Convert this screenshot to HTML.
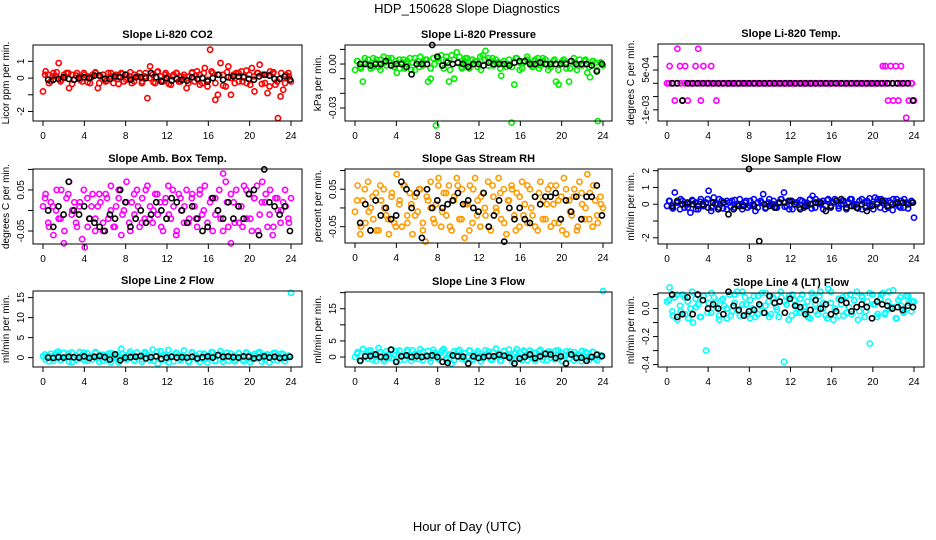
<!DOCTYPE html>
<html><head><meta charset="utf-8"><title>HDP_150628 Slope Diagnostics</title>
<style>
html,body{margin:0;padding:0;background:#fff;}
svg{display:block;font-family:"Liberation Sans",sans-serif;}
</style></head>
<body>
<svg id="chart" width="936" height="540" viewBox="0 0 936 540" xmlns="http://www.w3.org/2000/svg">
<text x="467" y="13" font-size="13" text-anchor="middle">HDP_150628  Slope Diagnostics</text>
<text x="467" y="531" font-size="13" text-anchor="middle">Hour of Day (UTC)</text>
</svg>
<script>
// ---- data ----
const hourTicks = [0,4,8,12,16,20,24];

const co2Color = [-0.8,0.4,0.2,-0.2,0.3,0.1,0.9,-0.1,0.2,0.3,-0.6,0.2,-0.1,0.3,0.1,-0.2,0.2,0.1,-0.3,0.2,0.3,-0.6,0.1,0.2,-0.2,0.3,0.1,-0.3,0.2,0.1,0.3,-0.2,0.2,0.1,-0.3,0.2,0.1,0.3,-0.2,0.1,-1.2,0.7,0.2,-0.3,0.4,0.1,-0.2,0.3,0.1,-0.4,0.2,0.3,-0.2,0.1,0.2,-0.6,0.1,0.3,-0.2,0.4,0.2,-0.3,0.6,-0.5,1.7,0.3,-1.3,-1.0,0.9,0.2,-0.5,0.7,-1.0,0.2,0.3,-0.2,0.4,0.1,-0.3,0.2,0.6,-0.8,0.3,0.8,0.2,-0.3,-0.9,0.4,0.3,-0.4,-2.4,-1.1,-0.7,0.2,0.3,-0.2];
const co2Color2 = [0.2,-0.3,0.1,0.35,-0.2,0.0,0.3,-0.35,0.15,-0.1,0.3,-0.25,0.05,0.35,-0.3,0.2,-0.15,0.3,0.0,-0.35,0.25,-0.1,0.35,-0.2,0.1,-0.3,0.3,0.0,-0.25,0.35,-0.15,0.2,-0.35,0.1,0.3,-0.2,0.05,-0.3,0.35,0.15,-0.4,0.3,-0.1,0.4,-0.3,0.2,-0.45,0.35,0.0,-0.3,0.3,-0.2,0.45,-0.4,0.1,0.3,-0.35,0.2,-0.5,0.35,-0.2,0.3,-0.3,0.1];
const co2Black = [-0.1,-0.1,-0.05,0.05,-0.05,-0.1,0.0,0.05,0.0,0.15,0.15,-0.05,-0.05,0.1,0.05,0.2,-0.1,0.05,0.05,0.0,0.3,0.05,-0.2,0.0,-0.15,-0.05,-0.1,-0.15,0.05,-0.05,0.0,-0.2,0.0,0.2,-0.1,0.05,0.1,0.1,0.05,-0.05,-0.1,0.1,0.2,0.15,-0.05,-0.05,0.1,-0.1];

const presColor = [-0.004,0.002,-0.002,-0.012,0.001,0.003,-0.003,0.004,0.001,-0.002,0.003,0.005,-0.001,0.002,0.004,-0.002,-0.006,0.003,0.001,-0.003,0.002,0.004,0.001,-0.004,0.002,0.005,-0.001,0.003,-0.012,-0.010,0.004,-0.042,0.002,0.006,-0.003,0.005,-0.012,0.006,-0.010,0.008,0.005,-0.003,0.002,0.004,-0.001,0.003,0.002,-0.002,0.005,0.006,0.009,0.004,0.002,-0.001,0.003,0.001,-0.008,0.002,-0.002,0.003,-0.040,-0.014,0.004,0.001,-0.003,0.002,0.005,0.001,-0.002,0.003,0.004,-0.001,0.002,0.003,-0.004,-0.002,0.002,-0.012,-0.014,0.001,0.003,-0.003,-0.012,0.002,0.001,-0.004,0.003,-0.001,0.002,-0.006,-0.009,0.002,0.001,-0.039,0.001,-0.001];
const presColor2 = [0.002,-0.003,0.004,0.0,-0.002,0.003,-0.004,0.001,0.004,-0.001,0.002,-0.003,0.003,0.0,-0.004,0.004,-0.002,0.001,0.003,-0.003,0.0,0.004,-0.001,0.002,-0.004,0.003,0.001,-0.002,0.004,-0.003,0.0,0.002,-0.004,0.003,-0.001,0.004,0.001,-0.003,0.002,0.0,-0.002,0.004,-0.004,0.001,0.003,-0.001,0.002,-0.003,0.004,0.0,-0.002,0.003,-0.004,0.002,0.001,-0.003,0.004,-0.001,0.0,0.003,-0.002,0.002,-0.004,0.001];
const presBlack = [0.0,0.0,-0.001,0.0,0.0,0.002,-0.001,0.0,0.0,-0.002,-0.007,0.0,0.0,0.0,0.013,0.005,-0.001,0.001,0.0,0.001,0.0,-0.002,0.0,0.0,-0.001,0.001,0.0,0.0,0.0,-0.001,0.001,0.002,0.002,0.0,0.0,0.001,0.0,0.0,0.0,0.0,0.0,0.002,0.0,0.0,0.0,-0.001,-0.005,0.0];

const tempColor = [0,0.00065,0,-0.00065,0.0013,0.00065,-0.00065,0.00065,-0.00065,0,0,0.00065,0.0013,-0.00065,0.00065,0,0,0.00065,0,-0.00065,0,0,0,0,0,0,0,0,0,0,0,0,0,0,0,0,0,0,0,0,0,0,0,0,0,0,0,0,0,0,0,0,0,0,0,0,0,0,0,0,0,0,0,0,0,0,0,0,0,0,0,0,0,0,0,0,0,0,0,0,0,0,0,0.00065,0.00065,-0.00065,0.00065,-0.00065,0.00065,-0.00065,0.00065,0,-0.0013,-0.00065,0,-0.00065];
const tempColor2 = [0,0,0,0,0,0,0,0,0,0,0,0,0,0,0,0,0,0,0,0,0,0,0,0,0,0,0,0,0,0,0,0,0,0,0,0,0,0,0,0,0,0,0,0,0,0,0,0,0,0,0,0,0,0,0,0,0,0,0,0,0,0,0,0];
const tempBlack = [0,0,-0.00065,0,0,0,0,0,0,0,0,0,0,0,0,0,0,0,0,0,0,0,0,0,0,0,0,0,0,0,0,0,0,0,0,0,0,0,0,0,0,0,0,0,0,0,0,-0.00065];

const ambColor = [0.01,0.04,-0.03,0.02,-0.06,0.0,-0.02,0.05,-0.08,0.03,0.07,-0.01,0.02,-0.04,0.01,-0.07,-0.09,0.03,-0.02,0.04,-0.05,0.01,0.02,-0.03,0.04,-0.02,0.06,-0.04,0.01,0.03,-0.06,0.0,0.07,-0.03,0.02,-0.01,0.05,-0.04,0.03,-0.02,0.06,0.01,-0.03,0.04,-0.01,0.02,-0.05,0.03,0.06,-0.02,0.01,-0.06,0.04,0.0,-0.03,0.05,-0.02,0.03,0.01,-0.04,0.04,-0.01,0.06,-0.03,0.02,-0.05,0.03,0.0,-0.02,0.09,0.07,-0.04,-0.08,0.02,0.05,-0.03,0.01,0.06,-0.02,0.04,-0.05,0.03,0.06,-0.01,0.07,0.02,-0.04,0.05,-0.06,0.03,0.0,-0.03,0.02,0.01,-0.02,0.03];
const ambColor2 = [0.03,-0.04,0.01,0.05,-0.02,-0.05,0.04,0.0,-0.03,0.02,0.05,-0.04,0.01,-0.02,0.04,-0.05,0.03,0.0,-0.04,0.05,-0.01,0.02,-0.05,0.04,0.01,-0.03,0.05,-0.02,0.0,0.04,-0.04,0.02,-0.01,0.05,-0.05,0.03,0.01,-0.03,0.04,-0.02,0.05,0.0,-0.04,0.03,-0.01,0.05,-0.05,0.02,0.04,-0.03,0.01,-0.04,0.05,-0.02,0.03,-0.05,0.02,0.04,-0.01,-0.04,0.03,0.0,0.05,-0.03];
const ambBlack = [0.0,-0.04,0.01,-0.01,0.07,0.0,-0.01,0.01,-0.02,-0.03,-0.04,-0.05,-0.01,-0.02,0.05,0.02,-0.04,-0.02,0.0,-0.03,-0.01,0.02,0.0,-0.02,0.03,0.02,0.0,-0.03,0.01,-0.02,-0.05,-0.04,0.03,0.0,-0.02,0.02,-0.02,0.01,-0.02,0.04,0.05,-0.06,0.1,0.02,0.01,-0.01,0.01,-0.05];

const rhColor = [-0.01,0.06,-0.07,0.02,-0.04,0.07,0.0,-0.03,0.04,-0.06,0.02,0.05,-0.02,-0.07,0.03,-0.04,0.09,0.01,-0.05,0.06,-0.02,0.04,-0.07,0.03,-0.01,0.05,-0.04,-0.09,0.02,0.07,-0.03,0.01,0.08,-0.05,0.04,-0.02,0.06,-0.06,0.03,0.08,-0.03,0.05,-0.08,0.01,0.06,-0.04,0.08,0.02,-0.05,0.04,-0.02,0.07,-0.06,0.03,0.0,0.08,-0.03,0.05,-0.07,0.02,0.06,-0.02,0.04,-0.05,0.07,0.01,-0.04,0.05,-0.02,0.03,-0.06,0.07,0.02,-0.03,0.05,-0.05,0.01,0.06,-0.04,0.03,0.08,-0.07,0.02,-0.02,0.05,-0.06,0.07,0.01,-0.03,0.09,0.04,-0.05,0.02,-0.04,0.03,0.0];
const rhColor2 = [0.02,-0.05,0.05,-0.01,0.03,-0.06,0.06,0.0,-0.03,0.04,-0.05,0.02,0.06,-0.04,0.01,-0.02,0.05,-0.06,0.03,0.0,-0.04,0.06,-0.01,0.04,-0.05,0.02,0.06,-0.03,0.01,-0.06,0.05,-0.02,0.03,0.0,-0.05,0.06,-0.01,0.04,-0.04,0.02,0.05,-0.06,0.03,-0.02,0.06,0.0,-0.05,0.04,-0.03,0.01,0.06,-0.04,0.02,-0.06,0.05,-0.01,0.03,-0.05,0.04,0.0,-0.03,0.06,-0.02,0.01];
const rhBlack = [-0.04,0.01,-0.06,0.02,-0.02,0.0,-0.03,-0.02,0.07,0.05,0.0,0.04,-0.08,0.05,0.0,0.02,0.0,0.01,0.02,0.04,0.01,0.02,0.0,-0.01,0.04,-0.05,-0.02,0.02,-0.09,0.0,-0.03,0.0,-0.03,-0.04,0.03,0.01,0.03,0.03,0.04,-0.03,0.02,-0.01,0.03,-0.03,0.03,0.03,0.06,-0.02];

const flowColor = [-0.1,0.2,-0.2,0.7,0.1,-0.3,0.2,0.0,-0.2,-0.5,0.2,0.1,-0.3,0.3,-0.1,0.1,0.8,-0.4,0.4,0.0,-0.2,0.2,0.1,-0.3,0.1,0.2,-0.2,0.0,0.3,-0.1,0.1,-0.2,0.2,0.0,-0.4,0.1,0.2,0.6,-0.2,0.1,0.0,0.2,-0.2,0.1,0.3,0.7,-0.1,-0.3,0.2,0.0,0.1,-0.2,0.2,0.1,-0.1,0.3,0.5,-0.2,0.1,0.0,0.2,-0.1,0.3,-0.2,0.1,0.2,-0.1,0.0,0.2,-0.2,0.1,0.3,-0.1,0.0,0.2,-0.3,0.1,0.2,-0.1,0.0,0.4,0.3,-0.2,0.1,0.2,-0.2,0.1,0.3,0.0,-0.1,0.2,-0.2,0.1,0.0,0.2,-0.8];
const flowColor2 = [0.2,-0.25,0.1,0.3,-0.2,0.0,0.25,-0.3,0.15,-0.1,0.3,-0.2,0.05,0.3,-0.25,0.2,-0.15,0.25,0.0,-0.3,0.2,-0.1,0.3,-0.2,0.1,-0.25,0.3,0.0,-0.2,0.3,-0.15,0.2,-0.3,0.1,0.25,-0.2,0.05,-0.25,0.3,0.15,-0.3,0.25,-0.1,0.3,-0.25,0.2,-0.3,0.3,0.0,-0.25,0.3,-0.2,0.35,-0.3,0.1,0.3,-0.3,0.2,-0.35,0.3,-0.2,0.3,-0.25,0.1];
const flowBlack = [-0.1,0.2,0.0,0.1,0.0,-0.1,0.0,-0.2,0.1,-0.3,0.1,-0.6,-0.3,-0.1,-0.1,2.1,-0.1,-2.2,0.0,-0.1,-0.2,0.1,0.1,0.2,0.0,-0.3,-0.1,0.0,0.1,0.1,-0.4,-0.1,0.2,0.3,-0.2,-0.1,-0.2,0.0,-0.4,-0.1,0.0,0.2,-0.1,0.0,0.1,0.1,0.0,0.1];

const line2Color = [0.3,-0.5,0.5,1.0,-0.8,0.8,1.5,-0.6,1.2,0.2,-1.0,1.3,0.0,-0.5,1.4,0.6,-0.7,1.1,0.3,-0.4,1.2,-0.2,0.7,-0.8,0.5,1.0,-1.2,0.4,0.9,-0.3,2.2,0.1,-0.5,1.0,0.5,-0.8,1.3,0.2,-0.4,1.4,0.8,-0.6,2.0,0.3,-1.5,1.6,0.5,-0.6,1.9,0.2,-0.9,1.2,0.6,-0.4,1.8,0.0,-1.0,1.3,0.5,-0.5,1.0,-0.3,0.8,-1.2,0.4,1.3,-0.7,0.6,1.6,-0.2,0.3,-0.8,1.0,0.5,-0.5,1.1,0.2,-0.9,1.2,0.6,-0.4,0.9,-0.2,1.4,0.3,-0.6,0.8,0.1,-0.5,1.2,0.4,-0.3,0.9,-0.2,0.5,16.2];
const line2Color2 = [0.8,-0.9,0.3,1.3,-0.6,0.0,1.0,-1.1,0.5,-0.3,1.2,-0.8,0.2,1.4,-1.0,0.7,-0.5,1.1,0.0,-1.2,0.9,-0.4,1.5,-0.7,0.3,-1.0,1.2,0.1,-0.8,1.4,-0.5,0.7,-1.2,0.4,1.1,-0.7,0.2,-1.0,1.3,0.5,-1.1,1.0,-0.3,1.4,-0.9,0.7,-1.0,1.2,0.0,-0.9,1.1,-0.6,1.3,-1.1,0.4,1.2,-1.0,0.6,-1.2,1.1,-0.7,1.0,-0.9,0.3];
const line2Black = [0.0,-0.1,0.1,0.0,0.2,0.1,0.0,0.3,-0.1,0.2,0.4,0.1,-0.5,0.8,-0.7,0.0,0.1,0.2,0.4,-0.2,0.1,0.3,-0.3,0.0,0.2,0.0,0.1,0.0,0.2,-0.2,0.1,0.3,0.0,0.6,0.2,0.3,0.1,0.0,0.3,0.2,-0.2,0.0,0.3,0.0,0.2,-0.1,0.0,0.2];

const line3Color = [0.0,1.5,-1.0,2.5,0.5,-0.5,2.0,0.8,-1.2,2.8,0.3,-0.6,1.8,-0.2,2.3,0.7,-1.5,2.0,0.4,-0.8,1.6,0.0,2.1,-0.4,1.0,2.4,-1.0,0.6,1.9,-0.3,2.2,0.5,-0.7,1.5,2.5,-0.2,0.8,-2.0,1.8,0.3,2.2,-0.6,1.2,0.0,2.0,-1.0,0.7,1.8,0.2,-0.5,2.1,0.6,-0.8,1.5,2.6,0.0,-1.2,1.8,0.4,2.3,-0.5,1.0,2.4,0.1,-0.9,1.6,0.5,2.0,-0.3,1.3,0.0,2.2,-0.8,1.0,1.7,-0.2,0.6,2.0,-0.6,1.3,0.3,1.8,-0.4,0.9,1.5,-0.1,0.5,1.9,-0.7,1.2,0.2,1.6,-0.3,0.8,0.0,20.5];
const line3Color2 = [1.0,-1.0,0.5,2.0,-0.8,0.3,1.6,-1.3,0.8,-0.2,1.8,-1.0,0.4,2.2,-1.2,1.0,-0.6,1.7,0.2,-1.4,1.3,-0.5,2.1,-0.9,0.6,-1.1,1.8,0.3,-1.0,2.0,-0.6,1.1,-1.4,0.7,1.7,-0.8,0.4,-1.2,1.9,0.8,-1.3,1.5,-0.3,2.0,-1.0,1.1,-1.2,1.8,0.1,-1.0,1.6,-0.7,2.0,-1.3,0.6,1.7,-1.1,0.9,-1.3,1.6,-0.8,1.5,-1.0,0.5];
const line3Black = [-1.2,0.2,0.3,0.8,0.0,0.0,2.3,-1.5,0.2,0.5,0.0,0.3,0.0,0.3,0.5,0.0,-1.5,-1.8,0.5,0.2,0.1,-2.0,0.2,-0.3,0.0,0.3,0.2,0.7,0.4,-0.2,-2.0,-0.5,0.0,0.8,-0.4,0.2,1.0,0.8,-0.3,0.2,-2.0,0.8,-0.3,-0.2,-1.2,0.0,0.7,0.3];

const line4Color = [0.05,0.15,-0.02,0.08,-0.08,0.02,0.10,-0.04,0.05,0.00,-0.10,0.07,0.03,-0.06,0.09,-0.30,0.04,-0.03,0.08,0.01,-0.05,0.06,0.02,-0.07,0.10,-0.02,0.04,0.12,-0.05,0.03,0.08,-0.04,0.06,0.00,-0.06,0.09,0.02,-0.03,0.11,0.05,-0.04,0.07,0.01,-0.06,0.08,-0.38,0.03,0.09,-0.05,0.06,0.02,-0.03,0.10,-0.02,0.05,-0.07,0.08,0.03,-0.04,0.12,0.00,-0.05,0.14,0.04,-0.08,-0.02,0.07,0.03,-0.05,0.09,0.01,-0.04,0.06,0.12,-0.02,0.08,-0.06,0.05,-0.25,0.10,0.03,-0.04,0.07,0.11,-0.03,0.05,0.00,0.13,-0.07,0.06,0.02,-0.03,0.09,0.04,-0.02,0.05];
const line4Color2 = [0.06,-0.05,0.10,-0.02,0.08,-0.07,0.12,0.01,-0.06,0.09,-0.03,0.11,0.04,-0.08,0.07,0.0,-0.05,0.10,-0.02,0.12,0.03,-0.07,0.09,-0.04,0.11,0.02,-0.06,0.08,-0.01,0.12,0.05,-0.08,0.10,-0.03,0.07,0.01,-0.06,0.11,-0.02,0.09,0.04,-0.07,0.12,0.0,-0.05,0.08,-0.03,0.10,0.06,-0.08,0.09,-0.02,0.11,0.03,-0.06,0.10,-0.04,0.12,0.01,-0.07,0.08,-0.02,0.09,0.05];
const line4Black = [0.10,-0.06,-0.04,0.08,-0.04,0.10,0.06,0.00,0.03,0.00,-0.04,0.12,0.02,-0.01,-0.05,-0.02,-0.01,0.03,-0.03,0.09,0.04,0.05,-0.03,0.07,0.02,0.01,-0.04,-0.01,0.06,0.00,0.03,-0.04,-0.02,0.06,0.04,-0.02,0.01,0.03,0.01,-0.07,0.05,0.03,0.02,0.00,0.01,-0.01,0.02,0.01];

// ---- layout ----
const cols = [{l:33,r:302,x0:43,x24:291},{l:345,r:612,x0:355,x24:603},{l:658,r:924,x0:667,x24:914}];
const panels = [
 {name:'co2',title:'Slope Li-820 CO2',ylab:'Licor ppm per min.',col:0,top:45,bot:121,ymin:-2.57,ymax:1.98,ticks:[-2,-1,0,1],labels:['-2','','0','1'],color:'#ff0000',cd:co2Color,cd2:co2Color2,bd:co2Black},
 {name:'pressure',title:'Slope Li-820 Pressure',ylab:'kPa per min.',col:1,top:45,bot:121,ymin:-0.0389,ymax:0.013,ticks:[-0.03,-0.02,-0.01,0,0.01],labels:['-0.03','','','0.00',''],color:'#00ee00',cd:presColor,cd2:presColor2,bd:presBlack},
 {name:'temp',title:'Slope Li-820 Temp.',ylab:'degrees C per min.',col:2,top:44,bot:121,ymin:-0.00142,ymax:0.00148,ticks:[-0.001,-0.0005,0,0.0005,0.001],labels:['-1e-03','','','5e-04',''],color:'#ff00ff',cd:tempColor,cd2:tempColor2,bd:tempBlack},
 {name:'amb-box-temp',title:'Slope Amb. Box Temp.',ylab:'degrees C per min.',col:0,top:169,bot:244,ymin:-0.0817,ymax:0.101,ticks:[-0.05,0,0.05,0.1],labels:['-0.05','','0.05',''],color:'#ff00ff',cd:ambColor,cd2:ambColor2,bd:ambBlack},
 {name:'gas-stream-rh',title:'Slope Gas Stream RH',ylab:'percent per min.',col:1,top:169,bot:243,ymin:-0.0936,ymax:0.104,ticks:[-0.05,0,0.05,0.1],labels:['-0.05','','0.05',''],color:'#ff9a00',cd:rhColor,cd2:rhColor2,bd:rhBlack},
 {name:'sample-flow',title:'Slope Sample Flow',ylab:'ml/min per min.',col:2,top:169,bot:244,ymin:-2.37,ymax:2.1,ticks:[-2,-1,0,1,2],labels:['-2','','0','1','2'],color:'#0000ff',cd:flowColor,cd2:flowColor2,bd:flowBlack},
 {name:'line2-flow',title:'Slope Line 2 Flow',ylab:'ml/min per min.',col:0,top:291,bot:367,ymin:-2.35,ymax:16.65,ticks:[0,5,10,15],labels:['0','5','10','15'],color:'#00ffff',cd:line2Color,cd2:line2Color2,bd:line2Black},
 {name:'line3-flow',title:'Slope Line 3 Flow',ylab:'ml/min per min.',col:1,top:292,bot:367,ymin:-3.1,ymax:20.2,ticks:[0,5,10,15,20],labels:['0','5','','15',''],color:'#00ffff',cd:line3Color,cd2:line3Color2,bd:line3Black},
 {name:'line4-flow',title:'Slope Line 4 (LT) Flow',ylab:'ml/min per min.',col:2,top:293,bot:367,ymin:-0.417,ymax:0.111,ticks:[-0.4,-0.3,-0.2,-0.1,0,0.1],labels:['-0.4','','-0.2','','0.0',''],color:'#00ffff',cd:line4Color,cd2:line4Color2,bd:line4Black}
];

const svg = document.getElementById('chart');
const NS = 'http://www.w3.org/2000/svg';
function mk(tag, attrs, parent){
  const e = document.createElementNS(NS, tag);
  for (const k in attrs) e.setAttribute(k, attrs[k]);
  parent.appendChild(e);
  return e;
}

panels.forEach(p => {
  const c = cols[p.col];
  const xs = h => c.x0 + (c.x24 - c.x0) * h / 24;
  const ys = v => p.bot - (v - p.ymin) / (p.ymax - p.ymin) * (p.bot - p.top);
  const g = mk('g', {}, svg);
  
  

  const t = mk('text', {x:(c.l + c.r) / 2, y:p.top - 7, 'font-size':11, 'font-weight':'bold', 'text-anchor':'middle'}, g);
  t.textContent = p.title;
  
  

  const cy = (p.top + p.bot) / 2;
  const yl = mk('text', {x:0, y:0, 'font-size':10, 'text-anchor':'middle', transform:'translate(' + (c.l - 24) + ',' + cy + ') rotate(-90)'}, g);
  yl.textContent = p.ylab;
  
  

  const pg = mk('g', {fill:'none', 'stroke-width':1.6}, g);
  
  
  p.cd.forEach((v, i) => {
    const h = i * 24 / (p.cd.length - 1);
    const pt = mk('circle', {cx:xs(h), cy:ys(v), r:2.6, stroke:p.color}, pg);
    
    
  });
  p.cd2.forEach((v, i) => {
    const h = 0.2 + i * 23.6 / (p.cd2.length - 1);
    const pt = mk('circle', {cx:xs(h), cy:ys(v), r:2.6, stroke:p.color}, pg);
    
    
  });
  p.bd.forEach((v, i) => {
    const h = 0.5 + i * 23.4 / (p.bd.length - 1);
    const pt = mk('circle', {cx:xs(h), cy:ys(v), r:2.6, stroke:'#000'}, pg);
    
    
  });

  const box = mk('rect', {x:c.l, y:p.top, width:c.r - c.l, height:p.bot - p.top, fill:'none', stroke:'#000', 'stroke-width':1}, g);
  
  

  hourTicks.forEach(h => {
    mk('line', {x1:xs(h), x2:xs(h), y1:p.bot, y2:p.bot + 5, stroke:'#000'}, g);
    const tl = mk('text', {x:xs(h), y:p.bot + 18, 'font-size':10, 'text-anchor':'middle'}, g);
    tl.textContent = h;
    
    
  });
  p.ticks.forEach((v, i) => {
    mk('line', {x1:c.l - 5, x2:c.l, y1:ys(v), y2:ys(v), stroke:'#000'}, g);
    if (p.labels[i]) {
      const tl = mk('text', {x:0, y:0, 'font-size':10, 'text-anchor':'middle', transform:'translate(' + (c.l - 9) + ',' + ys(v) + ') rotate(-90)'}, g);
      tl.textContent = p.labels[i];
      
      
    }
  });
});
</script>
</body></html>
